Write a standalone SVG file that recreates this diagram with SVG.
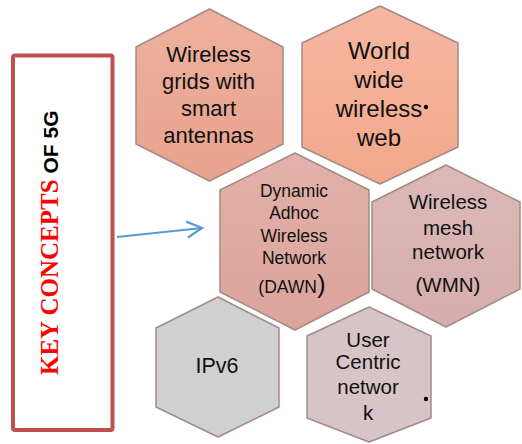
<svg xmlns="http://www.w3.org/2000/svg" width="522" height="444" viewBox="0 0 522 444">
<defs>
<style>
.hex{stroke:#a38a86;stroke-width:1.5;stroke-linejoin:round}
.t{font-family:"Liberation Sans",Arial,sans-serif;fill:#111;text-anchor:middle}
</style>
<linearGradient id="g1" x1="0" y1="0" x2="0" y2="1"><stop offset="0" stop-color="#eeb09e"/><stop offset="1" stop-color="#e7a38e"/></linearGradient>
<linearGradient id="g2" x1="0" y1="0" x2="0" y2="1"><stop offset="0" stop-color="#f6b7a0"/><stop offset="1" stop-color="#f2a88c"/></linearGradient>
<linearGradient id="g3" x1="0" y1="0" x2="0" y2="1"><stop offset="0" stop-color="#e2b1a9"/><stop offset="1" stop-color="#dca49b"/></linearGradient>
<linearGradient id="g4" x1="0" y1="0" x2="0" y2="1"><stop offset="0" stop-color="#dbb9b8"/><stop offset="1" stop-color="#d5adac"/></linearGradient>
<marker id="ah" viewBox="0 0 20 20" refX="17" refY="10" markerWidth="20" markerHeight="20" markerUnits="userSpaceOnUse" orient="auto">
<path d="M2,2 L17,10 L2,18" fill="none" stroke="#5b9bd5" stroke-width="2.2"/>
</marker>
</defs>
<rect width="522" height="444" fill="#fff"/>
<g id="title">
<rect x="13" y="55.5" width="99.5" height="374.5" rx="2" fill="#fff" stroke="#c0504d" stroke-width="4"/>
<text transform="translate(58,375) rotate(-90)" font-weight="bold"><tspan font-family="'Liberation Serif','Times New Roman',serif" font-size="25" fill="#ff0000">KEY CONCEPTS</tspan><tspan font-family="'Liberation Sans',Arial,sans-serif" font-size="21" fill="#000"> OF 5G</tspan></text>
</g>
<g id="connectors">
<path d="M117,237 L202,228" fill="none" stroke="#5b9bd5" stroke-width="2.2" marker-end="url(#ah)"/>
</g>
<g id="n-wireless-grids">
<polygon class="hex" fill="url(#g1)" points="209.5,9 283,47 283,144 209.5,181 136,144 136,47"/>
<text class="t" font-size="22"><tspan x="208.5" y="61.5">Wireless</tspan><tspan x="208.5" y="88.5">grids with</tspan><tspan x="208.5" y="115.5">smart</tspan><tspan x="208.5" y="142.5">antennas</tspan></text>
</g>
<g id="n-www">
<polygon class="hex" fill="url(#g2)" points="380,6 458,43 458,147 380,184 302,147 302,43"/>
<text class="t" font-size="24"><tspan x="379" y="59">World</tspan><tspan x="379" y="88">wide</tspan><tspan x="379" y="117">wireless</tspan><tspan x="379" y="146">web</tspan></text>
<circle cx="426" cy="107" r="2.2" fill="#000"/>
</g>
<g id="n-dawn">
<polygon class="hex" fill="url(#g3)" points="295,153 369,190 369,292 295,330 220,292 220,190"/>
<text class="t" font-size="17.5"><tspan x="294" y="197">Dynamic</tspan><tspan x="294" y="219">Adhoc</tspan><tspan x="294" y="242">Wireless</tspan><tspan x="294" y="264">Network</tspan><tspan x="292" y="293">(DAWN<tspan font-size="26">)</tspan></tspan></text>
</g>
<g id="n-wmn">
<polygon class="hex" fill="url(#g4)" points="446,165 520,202 520,289 446,327 372,289 372,202"/>
<text class="t" font-size="20.5"><tspan x="448" y="209">Wireless</tspan><tspan x="448" y="235">mesh</tspan><tspan x="448" y="259">network</tspan><tspan x="448" y="292">(WMN)</tspan></text>
</g>
<g id="n-ipv6">
<polygon class="hex" fill="#d0d0d0" stroke="#8f8f8f" stroke-width="1.5" points="218,297 279,328 279,407 218,437 156,407 156,328"/>
<text class="t" font-size="21.5" x="217" y="373">IPv6</text>
</g>
<g id="n-user-centric">
<polygon class="hex" fill="#d7c4c6" points="369,307 431,336 431,418 369,442 307,418 307,336" stroke="#9a8c8c" stroke-width="1.5"/>
<text class="t" font-size="20.5"><tspan x="368" y="347">User</tspan><tspan x="368" y="369">Centric</tspan><tspan x="368" y="394">networ</tspan><tspan x="368" y="420">k</tspan></text>
<circle cx="426" cy="399" r="2.2" fill="#000"/>
</g>
</svg>
